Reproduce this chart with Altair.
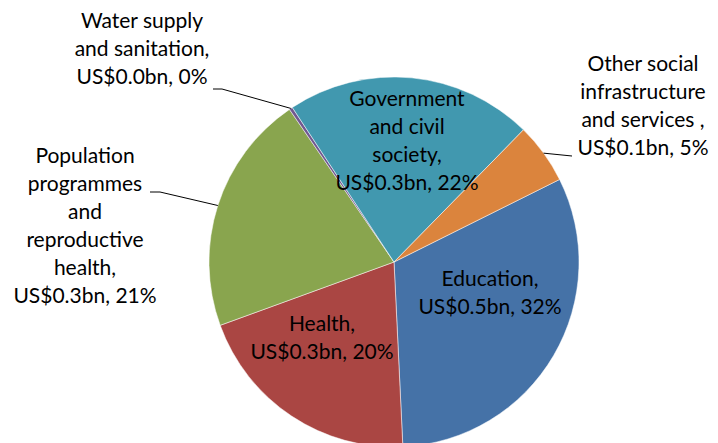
import math
import altair as alt
import pandas as pd

# ---- data ----
categories = [
    "Education",
    "Health",
    "Population programmes and reproductive health",
    "Water supply and sanitation",
    "Government and civil society",
    "Other social infrastructure and services",
]
shares_pct = [31.6, 20.2, 21.0, 0.3, 21.6, 5.3]
amounts_bn = [0.5, 0.3, 0.3, 0.0, 0.3, 0.1]
label_names = [
    "Education,",
    "Health,",
    "Population\nprogrammes\nand\nreproductive\nhealth,",
    "Water supply\nand sanitation,",
    "Government\nand civil\nsociety,",
    "Other social\ninfrastructure\nand services ,",
]
colors = ["#4572A7", "#AA4643", "#89A54E", "#71588F", "#4198AF", "#DB843D"]

# ---- layout ----
W, H = 702, 440
CX, CY, R = 386, 254, 185
START_DEG = 63.5  # first slice (Education) starts here, clockwise from 12 o'clock
start = math.radians(START_DEG)
LH = 28

labels_full = [f"{n}\nUS${a:.1f}bn, {round(p)}%" for n, a, p in zip(label_names, amounts_bn, shares_pct)]

pie_df = pd.DataFrame({
    "category": categories,
    "share": shares_pct,
    "order": list(range(len(categories))),
})

# label layout: (x centre, y of first line) in chart pixel coords
label_pos = {
    "Education": (482, 272),
    "Health": (314, 317),
    "Population programmes and reproductive health": (77, 149),
    "Water supply and sanitation": (134, 14),
    "Government and civil society": (399, 92),
    "Other social infrastructure and services": (635, 57),
}
text_df = pd.DataFrame({
    "label": labels_full,
    "lx": [label_pos[c][0] for c in categories],
    "ly": [label_pos[c][1] for c in categories],
})

# leader lines: label-side points + point on slice edge at slice mid-angle
leader_label_pts = {
    "Water supply and sanitation": [(205, 81), (214, 81)],
    "Other social infrastructure and services": [(564, 148)],
    "Population programmes and reproductive health": [(142, 184), (152, 184)],
}
cum = 0.0
mids = {}
for c, s in zip(categories, shares_pct):
    mids[c] = START_DEG + (cum + s / 2) / 100 * 360
    cum += s
rows = []
for c, pts in leader_label_pts.items():
    k = 0
    for (x, y) in pts:
        rows.append({"id": c, "k": k, "x": x, "y": y}); k += 1
    ang = math.radians(mids[c])
    rows.append({"id": c, "k": k, "x": CX + R * math.sin(ang), "y": CY - R * math.cos(ang)})
line_df = pd.DataFrame(rows)

pie = alt.Chart(pie_df).mark_arc(outerRadius=R, stroke="#ffffff", strokeWidth=0.5).encode(
    theta=alt.Theta("share:Q", stack=True,
                    scale=alt.Scale(domain=[0, 100], range=[start, start + 2 * math.pi])),
    order=alt.Order("order:Q"),
    color=alt.Color("category:N", scale=alt.Scale(domain=categories, range=colors), legend=None),
    x=alt.value(CX),
    y=alt.value(CY),
)

leaders = alt.Chart(line_df).mark_line(color="#000000", strokeWidth=1).encode(
    x=alt.X("x:Q", scale=None, axis=None),
    y=alt.Y("y:Q", scale=None, axis=None),
    detail="id:N",
    order="k:Q",
)

texts = alt.Chart(text_df).mark_text(
    font="Lato", fontSize=21, lineHeight=LH, lineBreak="\n",
    align="center", baseline="middle", color="#000000",
).encode(
    x=alt.X("lx:Q", scale=None, axis=None),
    y=alt.Y("ly:Q", scale=None, axis=None),
    text="label:N",
)

chart = alt.layer(pie, leaders, texts).properties(
    width=W, height=H, padding=0,
    autosize=alt.AutoSizeParams(type="none"),
).configure_view(stroke=None)

chart.save("out.html", embed_options={"renderer": "svg", "actions": False})
